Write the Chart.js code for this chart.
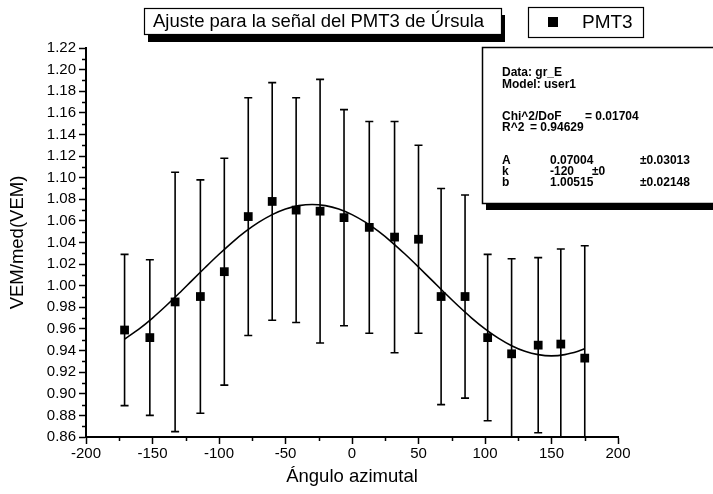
<!DOCTYPE html>
<html lang="es">
<head>
<meta charset="UTF-8">
<title>Ajuste PMT3</title>
<script src="https://cdn.jsdelivr.net/npm/chart.js"></script>
<style>
  html, body { margin: 0; padding: 0; background: #fff; }
  canvas { display: block; }
</style>
</head>
<body>
<canvas id="grafica" width="713" height="494"></canvas>
<script>
// Medidas del PMT3: ángulo azimutal, VEM/med(VEM) y su error
const angulos = [-171, -152, -133, -114, -96, -78, -60, -42, -24, -6, 13, 32, 50, 67, 85, 102, 120, 140, 157, 175];
const vem = [0.959, 0.952, 0.985, 0.990, 1.013, 1.064, 1.078, 1.070, 1.069, 1.063, 1.054, 1.045, 1.043, 0.990, 0.990, 0.952, 0.937, 0.945, 0.946, 0.933];
const errores = [0.070, 0.072, 0.120, 0.108, 0.105, 0.110, 0.110, 0.104, 0.122, 0.100, 0.098, 0.107, 0.087, 0.100, 0.094, 0.077, 0.088, 0.081, 0.088, 0.104];

// Curva ajustada (muestras)
const ajusteX = [-171, -160, -150, -140, -130, -120, -110, -100, -90, -80, -70, -60, -50, -40, -30, -20, -10, 0, 10, 20, 30, 40, 50, 60, 70, 80, 90, 100, 110, 120, 130, 140, 150, 160, 170, 175];
const ajusteY = [0.9507, 0.9601, 0.9701, 0.9812, 0.9930, 1.0052, 1.0173, 1.0291, 1.0402, 1.0502, 1.0588, 1.0658, 1.0710, 1.0741, 1.0752, 1.0741, 1.0710, 1.0658, 1.0588, 1.0502, 1.0402, 1.0291, 1.0173, 1.0052, 0.9930, 0.9812, 0.9701, 0.9601, 0.9515, 0.9445, 0.9393, 0.9362, 0.9351, 0.9362, 0.9393, 0.9417];

// Marcas de los ejes
const ticksX = [-200, -150, -100, -50, 0, 50, 100, 150, 200];
const ticksXMenor = [-175, -125, -75, -25, 25, 75, 125, 175];
const ticksY = [0.86, 0.88, 0.90, 0.92, 0.94, 0.96, 0.98, 1.00, 1.02, 1.04, 1.06, 1.08, 1.10, 1.12, 1.14, 1.16, 1.18, 1.20, 1.22];
const ticksYMenor = [0.87, 0.89, 0.91, 0.93, 0.95, 0.97, 0.99, 1.01, 1.03, 1.05, 1.07, 1.09, 1.11, 1.13, 1.15, 1.17, 1.19, 1.21];

// Texto de la caja de resultados del ajuste
const infoAjuste = [
  ['Data: gr_E', 0],
  ['Model: user1', 0],
  null,
  ['Chi^2/DoF', 0, '= 0.01704', 83],
  ['R^2', 0, '= 0.94629', 28],
  null,
  ['A', 0, '0.07004', 48, '\u00b10.03013', 138],
  ['k', 0, '-120', 48, '\u00b10', 90],
  ['b', 0, '1.00515', 48, '\u00b10.02148', 138]
];

const FUENTE = '"Liberation Sans", Arial, sans-serif';

const fondo = {
  id: 'fondo',
  beforeDraw(chart) {
    const c = chart.ctx;
    c.save();
    c.fillStyle = '#fff';
    c.fillRect(0, 0, chart.width, chart.height);
    c.restore();
  }
};

// Barras de error verticales con remate
const barrasError = {
  id: 'barrasError',
  beforeDatasetsDraw(chart) {
    const c = chart.ctx, sx = chart.scales.x, sy = chart.scales.y, a = chart.chartArea;
    c.save();
    c.beginPath();
    c.rect(a.left, a.top - 2, a.right - a.left, a.bottom - a.top + 2);
    c.clip();
    c.strokeStyle = '#000';
    c.lineWidth = 1.6;
    angulos.forEach((x, i) => {
      const px = sx.getPixelForValue(x);
      const y1 = sy.getPixelForValue(vem[i] + errores[i]);
      const y2 = sy.getPixelForValue(vem[i] - errores[i]);
      c.beginPath();
      c.moveTo(px, y1); c.lineTo(px, y2);
      c.moveTo(px - 4, y1); c.lineTo(px + 4, y1);
      c.moveTo(px - 4, y2); c.lineTo(px + 4, y2);
      c.stroke();
    });
    c.restore();
  }
};

// Marcas menores de los ejes
const marcasMenores = {
  id: 'marcasMenores',
  afterDraw(chart) {
    const c = chart.ctx, sx = chart.scales.x, sy = chart.scales.y, a = chart.chartArea;
    c.save();
    c.strokeStyle = '#000';
    c.lineWidth = 1.5;
    c.beginPath();
    ticksXMenor.forEach(v => {
      const px = Math.round(sx.getPixelForValue(v)) + 0.5;
      c.moveTo(px, a.bottom); c.lineTo(px, a.bottom + 4);
    });
    ticksYMenor.forEach(v => {
      const py = Math.round(sy.getPixelForValue(v)) + 0.5;
      c.moveTo(a.left, py); c.lineTo(a.left - 4, py);
    });
    c.stroke();
    c.restore();
  }
};

// Título, leyenda y caja de parámetros
const cajas = {
  id: 'cajas',
  afterDraw(chart) {
    const c = chart.ctx;
    c.save();
    c.textBaseline = 'middle';
    c.fillStyle = '#000';

    // título con sombra
    c.fillRect(148, 15, 357, 27);
    c.fillStyle = '#fff';
    c.fillRect(144, 8, 357, 26);
    c.strokeStyle = '#000';
    c.lineWidth = 1.2;
    c.strokeRect(144.5, 8.5, 357, 26);
    c.fillStyle = '#000';
    c.font = '18.5px ' + FUENTE;
    c.fillText('Ajuste para la se\u00f1al del PMT3 de \u00darsula', 153, 22);

    // leyenda
    c.fillStyle = '#fff';
    c.fillRect(528, 7, 115, 30);
    c.strokeRect(528.5, 7.5, 115, 30);
    c.fillStyle = '#000';
    c.fillRect(548, 17, 10, 10);
    c.font = '19px ' + FUENTE;
    c.fillText(chart.data.datasets[0].label, 582, 22.5);

    // caja de resultados
    c.fillRect(486, 53, 240, 157);
    c.fillStyle = '#fff';
    c.fillRect(482, 47, 240, 156);
    c.lineWidth = 1.5;
    c.strokeRect(482.5, 47.5, 240, 156);
    c.fillStyle = '#000';
    c.font = 'bold 12px ' + FUENTE;
    let y = 73;
    infoAjuste.forEach(fila => {
      if (fila) {
        for (let k = 0; k < fila.length; k += 2) c.fillText(fila[k], 502 + fila[k + 1], y);
      } else {
        y += 10;
      }
      y += 11.2;
    });
    c.restore();
  }
};

const ctx = document.getElementById('grafica').getContext('2d');
new Chart(ctx, {
  type: 'scatter',
  data: {
    datasets: [
      {
        label: 'PMT3',
        data: angulos.map((x, i) => ({ x: x, y: vem[i] })),
        pointStyle: 'rect',
        pointRadius: 6.2,
        backgroundColor: '#000',
        borderColor: '#000',
        borderWidth: 0,
        order: 0
      },
      {
        label: 'Ajuste',
        data: ajusteX.map((x, i) => ({ x: x, y: ajusteY[i] })),
        showLine: true,
        pointRadius: 0,
        borderColor: '#000',
        borderWidth: 1.6,
        tension: 0.3,
        order: 1
      }
    ]
  },
  options: {
    responsive: false,
    animation: false,
    layout: { padding: { top: 48, right: 95, left: 0, bottom: 0 } },
    plugins: { legend: { display: false }, tooltip: { enabled: false } },
    scales: {
      x: {
        type: 'linear',
        min: -200,
        max: 200,
        afterFit: s => { s.height = 57; },
        afterBuildTicks: s => { s.ticks = ticksX.map(v => ({ value: v })); },
        grid: { drawOnChartArea: false, drawTicks: true, tickLength: 7, tickColor: '#000', tickWidth: 1.5 },
        border: { color: '#000', width: 2 },
        ticks: { color: '#000', font: { family: FUENTE, size: 15 }, padding: 1, maxRotation: 0 },
        title: { display: true, text: '\u00c1ngulo azimutal', color: '#000', font: { family: FUENTE, size: 18.5 }, padding: { top: 0, bottom: 6 } }
      },
      y: {
        type: 'linear',
        min: 0.86,
        max: 1.22,
        afterFit: s => { s.width = 86; },
        afterBuildTicks: s => { s.ticks = ticksY.map(v => ({ value: v })); },
        grid: { drawOnChartArea: false, drawTicks: true, tickLength: 7, tickColor: '#000', tickWidth: 1.5 },
        border: { color: '#000', width: 2 },
        ticks: { color: '#000', font: { family: FUENTE, size: 15 }, padding: 3, callback: v => v.toFixed(2) },
        title: { display: true, text: 'VEM/med(VEM)', color: '#000', font: { family: FUENTE, size: 18.5 }, padding: { top: 7, bottom: 0 } }
      }
    }
  },
  plugins: [fondo, barrasError, marcasMenores, cajas]
});
</script>
</body>
</html>
